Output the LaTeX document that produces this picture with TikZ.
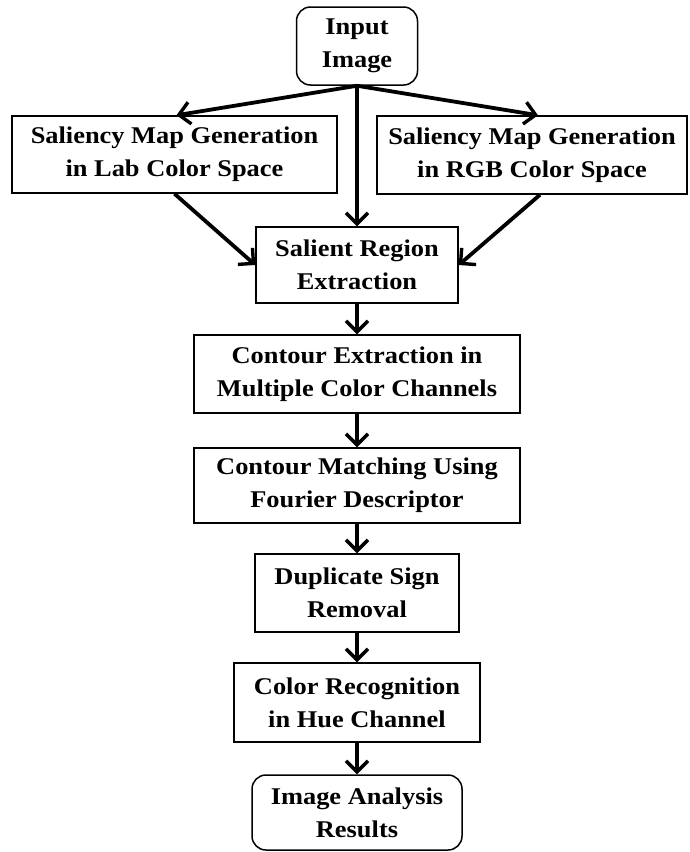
\documentclass[tikz,border=0pt]{standalone}
\usepackage{fontspec}
\setmainfont[FakeStretch=1.1]{Liberation Serif}
\usetikzlibrary{arrows.meta}

\begin{document}
\begin{tikzpicture}[x=1pt,y=-1pt,
  box/.style={draw,line width=1.5pt,align=center,inner sep=0pt,
    font=\fontsize{24}{33}\selectfont\bfseries},
  endbox/.style={box,rounded corners=14pt},
  flow/.style={line width=3.8pt,-{Straight Barb[length=11pt,width=22pt,line width=3.4pt]}}]
\useasboundingbox (0,0) rectangle (689,852);
% nodes
\node[endbox,minimum width=121pt,minimum height=78pt] (input) at (357,46) {Input\\Image};
\node[box,minimum width=325pt,minimum height=77pt] (lab) at (174.5,154.5) {Saliency Map Generation\\in Lab Color Space};
\node[box,minimum width=310pt,minimum height=78pt] (rgb) at (532,155) {Saliency Map Generation\\in RGB Color Space};
\node[box,minimum width=202pt,minimum height=76pt] (salient) at (357,265) {Salient Region\\Extraction};
\node[box,minimum width=326pt,minimum height=78pt] (contour) at (357,374) {Contour Extraction in\\Multiple Color Channels};
\node[box,minimum width=326pt,minimum height=75pt] (match) at (357,485.5) {Contour Matching Using\\Fourier Descriptor};
\node[box,minimum width=204pt,minimum height=78pt] (dup) at (357,593) {Duplicate Sign\\Removal};
\node[box,minimum width=246pt,minimum height=79pt] (hue) at (357,702.5) {Color Recognition\\in Hue Channel};
\node[endbox,minimum width=210pt,minimum height=75pt] (result) at (357,812.5) {Image Analysis\\Results};
% arrows
\draw[flow] (input.south) -- ([xshift=2pt]lab.north);
\draw[flow] (input.south) -- ([xshift=6pt]rgb.north);
\draw[flow] (input.south) -- (salient.north);
\draw[flow] (lab.south) -- (salient.west);
\draw[flow] ([xshift=8pt]rgb.south) -- (salient.east);
\draw[flow] (salient) -- (contour);
\draw[flow] (contour) -- (match);
\draw[flow] (match) -- (dup);
\draw[flow] (dup) -- (hue);
\draw[flow] (hue) -- (result);
\end{tikzpicture}
\end{document}
